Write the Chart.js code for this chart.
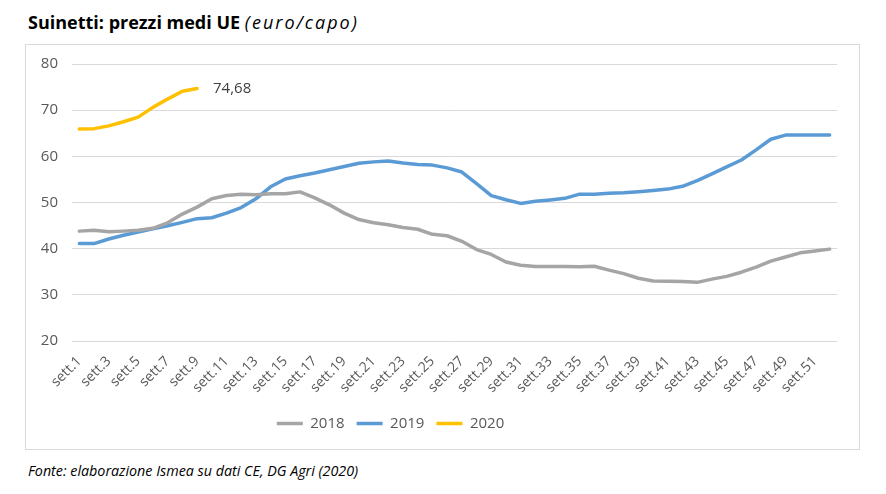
<!DOCTYPE html>
<html>
<head>
<meta charset="utf-8">
<script src="https://cdn.jsdelivr.net/npm/chart.js@4"></script>
<style>
  body { margin: 0; background: #fff; font-family: "Open Sans", sans-serif; }
  #title { position: absolute; left: 28px; top: 10px; font-size: 18px; color: #000; white-space: nowrap; }
  #title b { font-weight: 700; }
  #title i { font-weight: 400; letter-spacing: 2px; }
  #box { position: absolute; left: 25px; top: 44px; width: 835px; height: 406px; border: 1px solid #d9d9d9; box-sizing: border-box; }
  #wrap { position: absolute; left: 26px; top: 45px; width: 833px; height: 404px; }
  #source { position: absolute; left: 28px; top: 461px; font-size: 14.3px; font-style: italic; color: #000; white-space: nowrap; }
</style>
</head>
<body>
<div id="title"><b>Suinetti: prezzi medi UE</b> <i>(euro/capo)</i></div>
<div id="box"></div>
<div id="wrap"><canvas id="chart"></canvas></div>
<div id="source">Fonte: elaborazione Ismea su dati CE, DG Agri (2020)</div>

<script>
// weeks sett.1 .. sett.52
const weeks = [];
for (let i = 1; i <= 52; i++) weeks.push("sett." + i);

const prices2018 = [43.8, 44.0, 43.65, 43.8, 44.0, 44.4, 45.6, 47.5, 49.0, 50.8,
  51.5, 51.8, 51.7, 51.9, 51.9, 52.3, 51.0, 49.5, 47.7, 46.3,
  45.6, 45.2, 44.6, 44.2, 43.1, 42.8, 41.6, 39.8, 38.75, 37.1,
  36.4, 36.15, 36.15, 36.15, 36.1, 36.2, 35.35, 34.6, 33.6, 33.0,
  32.95, 32.9, 32.7, 33.4, 34.0, 34.9, 36.0, 37.3, 38.2, 39.1,
  39.5, 39.9];

const prices2019 = [41.1, 41.1, 42.1, 42.9, 43.6, 44.3, 44.95, 45.7, 46.5, 46.7,
  47.7, 48.9, 50.8, 53.4, 55.1, 55.8, 56.4, 57.1, 57.8, 58.5,
  58.8, 59.0, 58.55, 58.25, 58.1, 57.5, 56.6, 54.1, 51.5, 50.6,
  49.8, 50.25, 50.55, 50.9, 51.8, 51.8, 52.0, 52.1, 52.35, 52.6,
  52.9, 53.5, 54.75, 56.2, 57.7, 59.2, 61.4, 63.7, 64.6, 64.6,
  64.6, 64.6];

const prices2020 = [65.9, 66.0, 66.6, 67.5, 68.5, 70.6, 72.4, 74.1, 74.68];

const seriesNames = ["2018", "2019", "2020"];
const seriesColors = ["#A5A5A5", "#5B9BD5", "#FFC000"];

// label next to the last 2020 point
const lastLabel = {
  id: "lastLabel",
  afterDatasetsDraw(chart) {
    const meta = chart.getDatasetMeta(2);
    const pt = meta.data[meta.data.length - 1];
    const ctx = chart.ctx;
    ctx.save();
    ctx.font = "15px 'Open Sans', sans-serif";
    ctx.fillStyle = "#404040";
    ctx.textAlign = "left";
    ctx.textBaseline = "middle";
    ctx.fillText("74,68", pt.x + 16, pt.y);
    ctx.restore();
  }
};

// shift the legend left, like in the original
const legendShift = {
  id: "legendShift",
  afterLayout(chart) {
    chart.legend.left -= 41;
    chart.legend.right -= 41;
  }
};

const ds = [prices2018, prices2019, prices2020].map((d, i) => ({
  label: seriesNames[i],
  data: d,
  borderColor: seriesColors[i],
  backgroundColor: seriesColors[i],
  borderWidth: 3.5,
  pointRadius: 0,
  tension: 0,
  borderCapStyle: "round",
  borderJoinStyle: "round",
  fill: false
}));

new Chart(document.getElementById("chart"), {
  type: "line",
  data: { labels: weeks, datasets: ds },
  plugins: [lastLabel, legendShift],
  options: {
    responsive: true,
    maintainAspectRatio: false,
    animation: false,
    layout: { padding: { top: 19, right: 22, left: 0, bottom: 8 } },
    plugins: {
      tooltip: { enabled: false },
      legend: {
        position: "bottom",
        labels: {
          usePointStyle: true,
          pointStyle: "line",
          pointStyleWidth: 26,
          padding: 12,
          color: "#595959",
          font: { size: 15, family: "'Open Sans', sans-serif" }
        }
      }
    },
    scales: {
      x: {
        offset: true,
        grid: { display: false, drawTicks: false },
        border: { display: false },
        afterFit: s => { s.height = 63; },
        ticks: {
          autoSkip: false,
          maxRotation: 45,
          minRotation: 45,
          padding: 12,
          color: "#595959",
          font: { size: 14, family: "'Open Sans', sans-serif" },
          callback: function (v, i) { return i % 2 === 0 ? this.getLabelForValue(v) : ""; }
        }
      },
      y: {
        min: 20,
        max: 80,
        grid: { color: "#d9d9d9", lineWidth: 1, drawTicks: false },
        border: { display: false },
        afterFit: s => { s.width = 46; s.paddingTop = 0; s.paddingBottom = 0; },
        ticks: {
          stepSize: 10,
          padding: 14,
          color: "#595959",
          font: { size: 15, family: "'Open Sans', sans-serif" }
        }
      }
    }
  }
});
</script>
</body>
</html>
